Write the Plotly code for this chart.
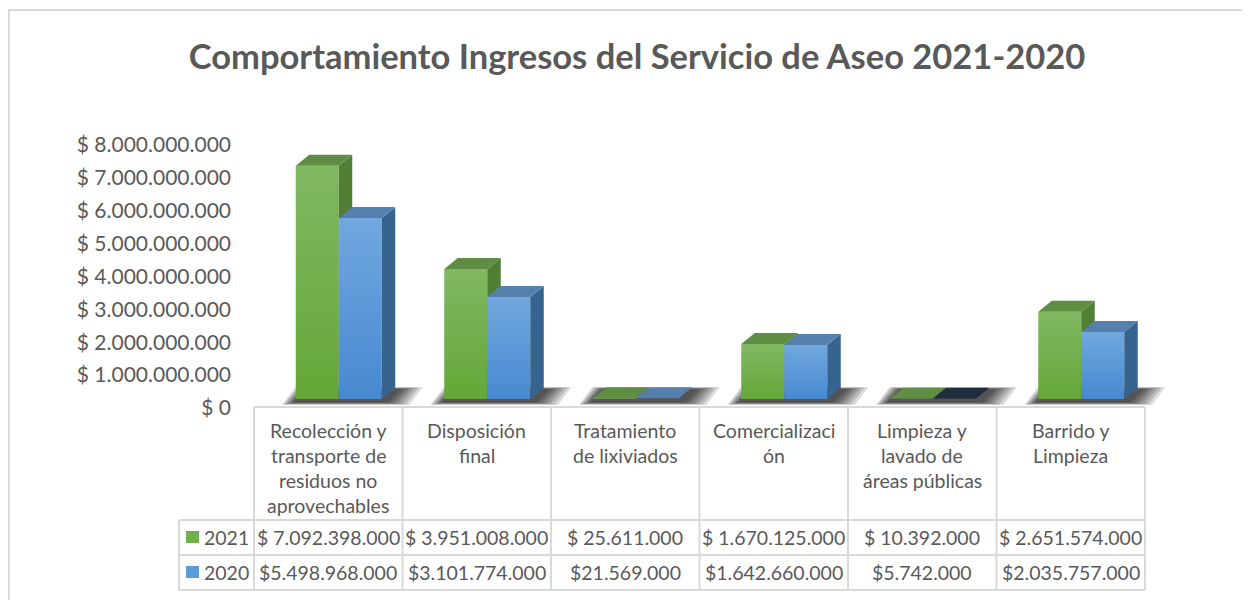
import plotly.graph_objects as go

# ---------------- data ----------------
categories = [
    "Recolección y transporte de residuos no aprovechables",
    "Disposición final",
    "Tratamiento de lixiviados",
    "Comercialización",
    "Limpieza y lavado de áreas públicas",
    "Barrido y Limpieza",
]
header_labels = [
    ["Recolección y", "transporte de", "residuos no", "aprovechables"],
    ["Disposición", "final"],
    ["Tratamiento", "de lixiviados"],
    ["Comercializaci", "ón"],
    ["Limpieza y", "lavado de", "áreas públicas"],
    ["Barrido y", "Limpieza"],
]
series_names = ["2021", "2020"]
values_2021 = [7092398000, 3951008000, 25611000, 1670125000, 10392000, 2651574000]
values_2020 = [5498968000, 3101774000, 21569000, 1642660000, 5742000, 2035757000]
y_tickvals = [0, 1e9, 2e9, 3e9, 4e9, 5e9, 6e9, 7e9, 8e9]
y_ticktext = ["$ 0", "$ 1.000.000.000", "$ 2.000.000.000", "$ 3.000.000.000", "$ 4.000.000.000",
              "$ 5.000.000.000", "$ 6.000.000.000", "$ 7.000.000.000", "$ 8.000.000.000"]
title_text = "Comportamiento Ingresos del Servicio de Aseo 2021-2020"

# ---------------- layout geometry (screen pixels) ----------------
OFF = 8                      # page body margin
W, H = 1250 - OFF, 600 - OFF
CAT_W = 148.5               # px per category
X0_PX = 254                 # left edge of first category (screen)
ZERO_PX = 408               # screen y of value 0
PX_PER_B = 32.9             # px per 1e9
AX_LEFT_PX = 236

def x_px(xd):
    return X0_PX + CAT_W * (xd + 0.5)

def px_to_xd(p):
    return (p - X0_PX) / CAT_W - 0.5

def py_to_yd(p):
    return (ZERO_PX - p) / PX_PER_B * 1e9

def pxp(p):
    return (p - OFF) / W

def pyp(p):
    return 1 - (p - OFF) / H

# 3D projection style
bar_w = 43 / CAT_W
shift = 10.5 / CAT_W
dx = 13.5 / CAT_W
dy = 11 / PX_PER_B * 1e9
lift = 9 / PX_PER_B * 1e9

front_scales = [
    [[0, "#65a738"], [1, "#80b862"]],
    [[0, "#4789d0"], [1, "#71a8de"]],
]
side_colors = ["#517f34", "#36648f"]
top_colors = ["#5f8d44", "#5580ad"]
top_dark = "#1f2d3f"

fig = go.Figure()

series = [values_2021, values_2020]
for i in range(len(categories)):
    gl = i + shift - bar_w
    br = i + shift + bar_w
    # soft floor shadow (stacked translucent layers)
    for e in [24, 20, 16, 12, 9, 6, 3, 0]:
        lx = gl - (3 + e * 0.45) / CAT_W
        rx = br + dx + (6 + e * 0.9) / CAT_W
        yb = py_to_yd(402.5 + e * 0.1)
        yt = py_to_yd(389 - e * 0.08)
        fx = [lx, rx - dx, rx, lx + dx, lx]
        fy = [yb, yb, yt, yt, yb]
        fig.add_trace(go.Scatter(x=fx, y=fy, fill="toself", mode="lines",
                                 line=dict(width=0), fillcolor="rgba(30,30,30,0.16)",
                                 hoverinfo="skip", showlegend=False))
    for s, vals in enumerate(series):
        v = vals[i]
        xl = i + shift - bar_w + s * bar_w
        xr = xl + bar_w
        b = lift
        t = lift + v
        # front face
        fig.add_trace(go.Scatter(
            x=[xl, xr, xr, xl, xl], y=[b, b, t, t, b], fill="toself", mode="lines",
            line=dict(width=0),
            fillgradient=dict(type="vertical", colorscale=front_scales[s]),
            name=series_names[s],
            hovertemplate=categories[i] + ": %{text}<extra>" + series_names[s] + "</extra>",
            text=[f"$ {v:,}".replace(",", ".")] * 5, showlegend=False))
        # right side face
        fig.add_trace(go.Scatter(
            x=[xr, xr + dx, xr + dx, xr, xr], y=[b, b + dy, t + dy, t, b],
            fill="toself", mode="lines", line=dict(width=0), fillcolor=side_colors[s],
            hoverinfo="skip", showlegend=False))
        # top face
        tc = top_colors[s]
        if s == 1 and v < 1e7:
            tc = top_dark
        fig.add_trace(go.Scatter(
            x=[xl, xr, xr + dx, xl + dx, xl], y=[t, t, t + dy, t + dy, t],
            fill="toself", mode="lines", line=dict(width=0), fillcolor=tc,
            hoverinfo="skip", showlegend=False))

shapes = []
# chart border
shapes.append(dict(type="rect", xref="paper", yref="paper",
                   x0=pxp(9), x1=pxp(1262), y0=pyp(10), y1=pyp(612),
                   line=dict(color="#d9d9d9", width=2), fillcolor="rgba(0,0,0,0)"))
grid_c = "#d9d9d9"
left_tab = 179
right_tab = x_px(len(categories) - 0.5)
# horizontal table lines
shapes.append(dict(type="line", xref="paper", yref="paper", x0=pxp(x_px(-0.5)), x1=pxp(right_tab),
                   y0=pyp(407), y1=pyp(407), line=dict(color=grid_c, width=2)))
for yy in [520, 555, 590]:
    shapes.append(dict(type="line", xref="paper", yref="paper", x0=pxp(left_tab), x1=pxp(right_tab),
                       y0=pyp(yy), y1=pyp(yy), line=dict(color=grid_c, width=2)))
# vertical table lines
shapes.append(dict(type="line", xref="paper", yref="paper", x0=pxp(left_tab), x1=pxp(left_tab),
                   y0=pyp(520), y1=pyp(590), line=dict(color=grid_c, width=2)))
for i in range(len(categories) + 1):
    xx = x_px(i - 0.5)
    shapes.append(dict(type="line", xref="paper", yref="paper", x0=pxp(xx), x1=pxp(xx),
                       y0=pyp(407), y1=pyp(590), line=dict(color=grid_c, width=2)))
# legend keys
key_colors = ["#70b04a", "#5b9bd9"]
for s, yc in enumerate([537, 572]):
    shapes.append(dict(type="rect", xref="paper", yref="paper", x0=pxp(186), x1=pxp(199),
                       y0=pyp(yc - 6), y1=pyp(yc + 6), line=dict(width=0), fillcolor=key_colors[s]))

annotations = []
txt_font = dict(family="Lato, Carlito, sans-serif", size=19.5, color="#595959")
for i, lines in enumerate(header_labels):
    for j, ln in enumerate(lines):
        annotations.append(dict(text=ln, xref="x", yref="paper", x=i, y=pyp(430 + 25.3 * j),
                                xanchor="center", yanchor="middle", showarrow=False, font=txt_font))
for s, (vals, yc) in enumerate(zip(series, [537, 572])):
    annotations.append(dict(text=series_names[s], xref="paper", yref="paper", x=pxp(202), y=pyp(yc),
                            xanchor="left", yanchor="middle", showarrow=False, font=txt_font))
    for i, v in enumerate(vals):
        label = (f"$ {v:,}" if s == 0 else f"${v:,}").replace(",", ".")
        annotations.append(dict(text=label, xref="x", yref="paper", x=i, y=pyp(yc),
                                xanchor="center", yanchor="middle", showarrow=False, font=txt_font))

fig.update_layout(
    width=W, height=H,
    margin=dict(l=0, r=0, t=0, b=0),
    paper_bgcolor="white", plot_bgcolor="white",
    title=dict(text="<b>" + title_text + "</b>", x=pxp(637), y=pyp(57), xanchor="center", yanchor="middle",
               font=dict(family="Lato, Carlito, sans-serif", size=34.5, color="#595959")),
    xaxis=dict(domain=[pxp(AX_LEFT_PX), 1], range=[px_to_xd(AX_LEFT_PX), px_to_xd(1250)],
               showgrid=False, zeroline=False, showticklabels=False, showline=False, fixedrange=True),
    yaxis=dict(range=[py_to_yd(600), py_to_yd(OFF)], tickvals=y_tickvals, ticktext=y_ticktext,
               showgrid=False, zeroline=False, showline=False, ticks="", ticklabelstandoff=4,
               tickfont=dict(family="Lato, Carlito, sans-serif", size=21, color="#595959"), fixedrange=True),
    shapes=shapes, annotations=annotations, showlegend=False,
)

fig.write_html("out.html")
